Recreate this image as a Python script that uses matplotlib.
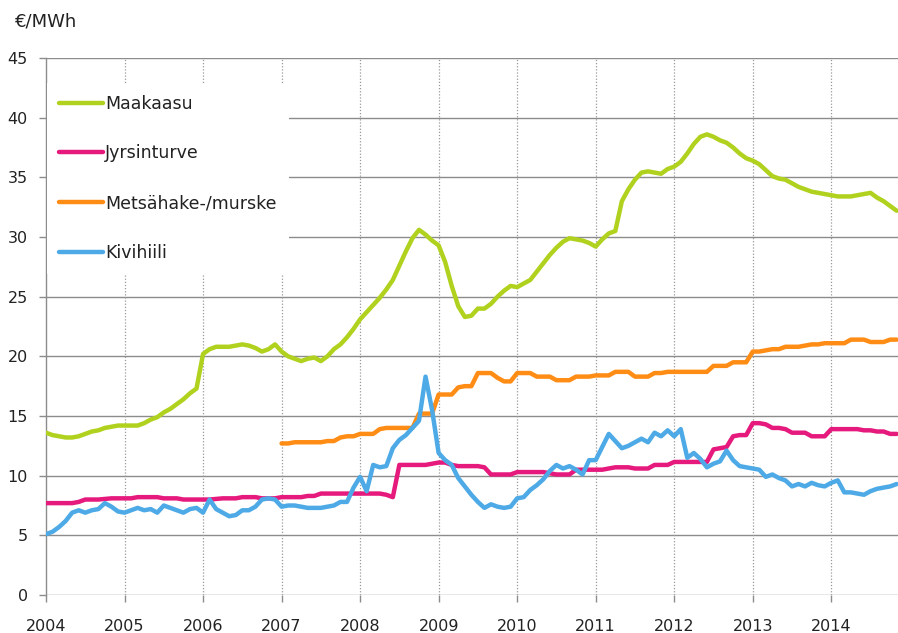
import numpy as np
import matplotlib
matplotlib.use("Agg")
import matplotlib.pyplot as plt

# Monthly data, Jan 2004 .. Nov 2014
maakaasu = [
    13.6, 13.4, 13.3, 13.2, 13.2, 13.3, 13.5, 13.7, 13.8, 14.0, 14.1, 14.2,
    14.2, 14.2, 14.2, 14.4, 14.7, 14.9, 15.3, 15.6, 16.0, 16.4, 16.9, 17.3,
    20.2, 20.6, 20.8, 20.8, 20.8, 20.9, 21.0, 20.9, 20.7, 20.4, 20.6, 21.0,
    20.4, 20.0, 19.8, 19.6, 19.8, 19.9, 19.6, 20.0, 20.6, 21.0, 21.6, 22.3,
    23.1, 23.7, 24.3, 24.9, 25.6, 26.4, 27.6, 28.8, 29.9, 30.6, 30.2, 29.7,
    29.3, 27.9, 25.9, 24.2, 23.3, 23.4, 24.0, 24.0, 24.4, 25.0, 25.5, 25.9,
    25.8, 26.1, 26.4, 27.1, 27.8, 28.5, 29.1, 29.6, 29.9, 29.8, 29.7, 29.5,
    29.2, 29.8, 30.3, 30.5, 33.0, 34.0, 34.8, 35.4, 35.5, 35.4, 35.3, 35.7,
    35.9, 36.3, 37.0, 37.8, 38.4, 38.6, 38.4, 38.1, 37.9, 37.5, 37.0, 36.6,
    36.4, 36.1, 35.6, 35.1, 34.9, 34.8, 34.5, 34.2, 34.0, 33.8, 33.7, 33.6,
    33.5, 33.4, 33.4, 33.4, 33.5, 33.6, 33.7, 33.3, 33.0, 32.6, 32.2,
]
jyrsinturve = [
    7.7, 7.7, 7.7, 7.7, 7.7, 7.8, 8.0, 8.0, 8.0, 8.05, 8.1, 8.1,
    8.1, 8.1, 8.2, 8.2, 8.2, 8.2, 8.1, 8.1, 8.1, 8.0, 8.0, 8.0,
    8.0, 8.0, 8.05, 8.1, 8.1, 8.1, 8.2, 8.2, 8.2, 8.1, 8.1, 8.1,
    8.2, 8.2, 8.2, 8.2, 8.3, 8.3, 8.5, 8.5, 8.5, 8.5, 8.5, 8.5,
    8.5, 8.5, 8.5, 8.5, 8.4, 8.2, 10.9, 10.9, 10.9, 10.9, 10.9, 11.0,
    11.1, 11.1, 10.9, 10.8, 10.8, 10.8, 10.8, 10.7, 10.1, 10.1, 10.1, 10.1,
    10.3, 10.3, 10.3, 10.3, 10.3, 10.2, 10.1, 10.1, 10.1, 10.5, 10.5, 10.5,
    10.5, 10.5, 10.6, 10.7, 10.7, 10.7, 10.6, 10.6, 10.6, 10.9, 10.9, 10.9,
    11.15, 11.15, 11.15, 11.15, 11.15, 11.15, 12.2, 12.3, 12.4, 13.3, 13.4, 13.4,
    14.4, 14.4, 14.3, 14.0, 14.0, 13.9, 13.6, 13.6, 13.6, 13.3, 13.3, 13.3,
    13.9, 13.9, 13.9, 13.9, 13.9, 13.8, 13.8, 13.7, 13.7, 13.5, 13.5,
]
metsahake = [np.nan] * 36 + [
    12.7, 12.7, 12.8, 12.8, 12.8, 12.8, 12.8, 12.9, 12.9, 13.2, 13.3, 13.3,
    13.5, 13.5, 13.5, 13.9, 14.0, 14.0, 14.0, 14.0, 14.0, 15.2, 15.2, 15.2,
    16.8, 16.8, 16.8, 17.4, 17.5, 17.5, 18.6, 18.6, 18.6, 18.2, 17.9, 17.9,
    18.6, 18.6, 18.6, 18.3, 18.3, 18.3, 18.0, 18.0, 18.0, 18.3, 18.3, 18.3,
    18.4, 18.4, 18.4, 18.7, 18.7, 18.7, 18.3, 18.3, 18.3, 18.6, 18.6, 18.7,
    18.7, 18.7, 18.7, 18.7, 18.7, 18.7, 19.2, 19.2, 19.2, 19.5, 19.5, 19.5,
    20.4, 20.4, 20.5, 20.6, 20.6, 20.8, 20.8, 20.8, 20.9, 21.0, 21.0, 21.1,
    21.1, 21.1, 21.1, 21.4, 21.4, 21.4, 21.2, 21.2, 21.2, 21.4, 21.4,
]
kivihiili = [
    5.1, 5.3, 5.7, 6.2, 6.9, 7.1, 6.9, 7.1, 7.2, 7.7, 7.4, 7.0,
    6.9, 7.1, 7.3, 7.1, 7.2, 6.9, 7.5, 7.3, 7.1, 6.9, 7.2, 7.3,
    6.9, 8.0, 7.2, 6.9, 6.6, 6.7, 7.1, 7.1, 7.4, 8.0, 8.1, 8.0,
    7.4, 7.5, 7.5, 7.4, 7.3, 7.3, 7.3, 7.4, 7.5, 7.8, 7.8, 9.0,
    9.9, 8.7, 10.9, 10.7, 10.8, 12.3, 13.0, 13.4, 14.0, 14.6, 18.3, 15.5,
    11.9, 11.3, 10.9, 9.8, 9.1, 8.4, 7.8, 7.3, 7.6, 7.4, 7.3, 7.4,
    8.1, 8.2, 8.8, 9.2, 9.7, 10.4, 10.9, 10.6, 10.8, 10.5, 10.1, 11.3,
    11.3, 12.4, 13.5, 12.9, 12.3, 12.5, 12.8, 13.1, 12.8, 13.6, 13.3, 13.8,
    13.3, 13.9, 11.5, 11.9, 11.4, 10.7, 11.0, 11.2, 12.1, 11.3, 10.8, 10.7,
    10.6, 10.5, 9.9, 10.1, 9.8, 9.6, 9.1, 9.3, 9.1, 9.4, 9.2, 9.1,
    9.4, 9.6, 8.6, 8.6, 8.5, 8.4, 8.7, 8.9, 9.0, 9.1, 9.3,
]
series_names = ["Maakaasu", "Jyrsinturve", "Metsähake-/murske", "Kivihiili"]
series_colors = ["#B0D21E", "#E6197D", "#FF8C14", "#4DAAE6"]
years = list(range(2004, 2015))
yticks = list(range(0, 50, 5))

n = len(maakaasu)
x = 2004 + np.arange(n) / 12.0

plt.rcParams['font.family'] = ['DejaVu Sans']
fig = plt.figure(figsize=(8.98, 6.33), dpi=100)
ax = fig.add_axes([46 / 898, 1 - 595 / 633, 1 - 46 / 898, (595 - 58) / 633])

for data, name, col in zip([maakaasu, jyrsinturve, metsahake, kivihiili],
                           series_names, series_colors):
    ax.plot(x, data, color=col, lw=3.2, label=name, solid_capstyle='round',
            solid_joinstyle='round', zorder=3)

ax.set_xlim(2004, 2014.85)
ax.set_ylim(0, 45)
ax.set_yticks(yticks)
ax.set_xticks(years)
ax.set_xticklabels([str(y) for y in years])

for v in yticks:
    ax.axhline(v, color="#8c8c8c", lw=1.0, zorder=1)
for yv in years[1:]:
    ax.axvline(yv, color="#999999", lw=0.9, ls=(0, (1, 1.5)), zorder=1)

for s in ["top", "right", "bottom"]:
    ax.spines[s].set_visible(False)
ax.spines["left"].set_color("#8c8c8c")
ax.spines["left"].set_linewidth(1.0)
ax.tick_params(axis='both', colors="#8c8c8c", labelcolor="#222222",
               labelsize=11.5, length=5, width=1.0, direction='out')
ax.tick_params(axis='x', pad=12)
ax.tick_params(axis='y', pad=8)

leg = ax.legend(loc='upper left', bbox_to_anchor=(0.001, 0.954), borderaxespad=0,
                frameon=True, facecolor='white', edgecolor='none', framealpha=1,
                fontsize=12.5, handlelength=2.53, handletextpad=0.12,
                labelspacing=1.82, borderpad=0.7, fancybox=False)
leg.set_zorder(5)
for t in leg.get_texts():
    t.set_color("#222222")

fig.text(15 / 898, 1 - 21 / 633, "€/MWh", fontsize=13, color="#222222",
         va='center', ha='left')

fig.savefig("out.png", dpi=100)
